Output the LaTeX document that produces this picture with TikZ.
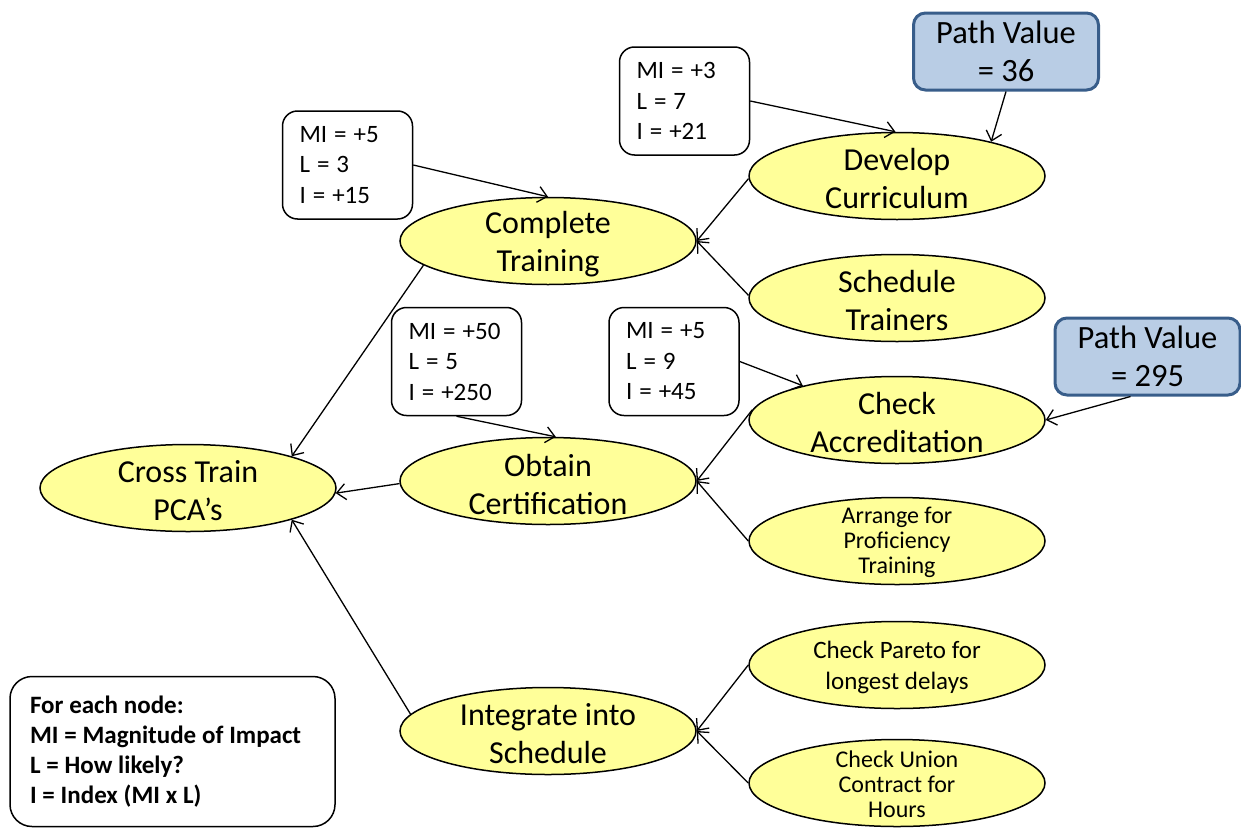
\documentclass[tikz,border=0pt]{standalone}
\usepackage{fontspec}
\setmainfont{Carlito}
\usetikzlibrary{shapes.geometric,arrows.meta,calc}
\definecolor{goalfill}{RGB}{255,255,153}
\definecolor{pathfill}{RGB}{185,205,229}
\definecolor{pathline}{RGB}{56,93,138}

\begin{document}
\begin{tikzpicture}[x=1pt,y=-1pt,
  goal/.style={ellipse, draw=black, line width=1.5pt, fill=goalfill,
    minimum width=296pt, minimum height=87pt, inner sep=0pt},
  bigtxt/.style={font=\fontsize{32}{38}\selectfont, align=center, inner sep=0pt, yshift=-3pt},
  smalltxt/.style={font=\fontsize{24}{25}\selectfont, align=center, inner sep=0pt, yshift=-1pt},
  midtxt/.style={font=\fontsize{25}{31}\selectfont, align=center, inner sep=0pt, yshift=-2pt},
  scorebox/.style={draw=black, line width=1.5pt, rounded corners=15pt, fill=white,
    minimum width=130pt, minimum height=108pt, inner xsep=17pt,
    text width=96pt, align=left, font=\fontsize{25}{30.5}\selectfont,
    execute at begin node={\spaceskip=7pt\relax}},
  pathbox/.style={draw=pathline, line width=3pt, rounded corners=12pt, fill=pathfill,
    minimum width=185pt, minimum height=77pt, align=center,
    font=\fontsize{32.5}{38}\selectfont},
  legend/.style={draw=black, line width=1.5pt, rounded corners=22pt, fill=white,
    minimum width=325pt, minimum height=150pt, inner xsep=20pt,
    text width=285pt, align=left, font=\bfseries\fontsize{25}{30}\selectfont,
    execute at begin node={\spaceskip=5.8pt\relax}},
  link/.style={-{Straight Barb[length=9pt,width=16pt]}, line width=1.3pt},
]
\useasboundingbox (0,0) rectangle (1241,827);

% goal tree
\node[goal, label={[bigtxt]center:Cross Train\\PCA's}] (cross) at (188,488) {};
\node[goal, label={[bigtxt]center:Complete\\Training}] (ct) at (548,241) {};
\node[goal, label={[bigtxt]center:Obtain\\Certification}] (ob) at (548,481) {};
\node[goal, label={[bigtxt]center:Integrate into\\Schedule}] (ig) at (548,731) {};
\node[goal, label={[bigtxt]center:Develop\\Curriculum}] (dc) at (897,176) {};
\node[goal, label={[bigtxt]center:Schedule\\Trainers}] (st) at (897,298) {};
\node[goal, label={[bigtxt]center:Check\\Accreditation}] (ca) at (897,420) {};
\node[goal, label={[smalltxt]center:Arrange for\\Proficiency\\Training}] (ar) at (897,541) {};
\node[goal, label={[midtxt]center:Check Pareto for\\longest delays}] (cp) at (897,665) {};
\node[goal, label={[smalltxt]center:Check Union\\Contract for\\Hours}] (cu) at (897,783) {};

% impact scores
\node[scorebox] (s1) at (347.5,165) {MI = +5\\L = 3\\I = +15};
\node[scorebox] (s2) at (684.5,101) {MI = +3\\L = 7\\I = +21};
\node[scorebox] (s3) at (456.5,361.5) {MI = +50\\L = 5\\I = +250};
\node[scorebox] (s4) at (674,361.5) {MI = +5\\L = 9\\I = +45};

% path values
\node[pathbox] (p1) at (1006,51.5) {Path Value\\= 36};
\node[pathbox] (p2) at (1147.5,356.5) {Path Value\\= 295};

% legend
\node[legend] (key) at (172.5,751.5) {For each node:\\MI = Magnitude of Impact\\L = How likely?\\I = Index (MI x L)};

% tree connectors
\draw[link] (ct.191) -- (cross.17);
\draw[link] (ob.181) -- (cross.-2);
\draw[link] (ig.173) -- (cross.-17);
\draw[link] (dc.181) -- (ct.east);
\draw[link] (st.179) -- (ct.east);
\draw[link] (ca.176) -- (ob.east);
\draw[link] (ar.west) -- (ob.east);
\draw[link] (cp.west) -- (ig.east);
\draw[link] (cu.west) -- (ig.east);

% score and path value connectors
\draw[link] (s1.east) -- (ct.north);
\draw[link] (s2.east) -- (dc.92);
\draw[link] (s3.south) -- (ob.80);
\draw[link] (s4.east) -- (ca.160);
\draw[link] (p1.south) -- (dc.20);
\draw[link] ($(p2.south)+(-17,0)$) -- (ca.east);
\end{tikzpicture}
\end{document}
